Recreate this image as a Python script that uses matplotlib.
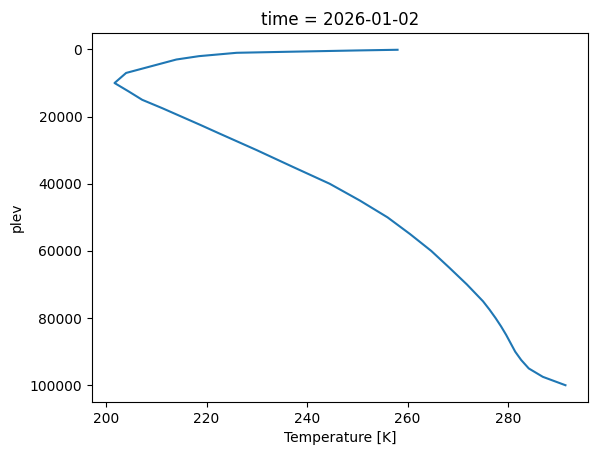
import numpy as np
import matplotlib
matplotlib.use("Agg")
from matplotlib import pyplot as plt

# pressure levels [Pa] and temperature [K]
plev = [100, 200, 300, 500, 700, 1000, 2000, 3000, 5000, 7000,
        10000, 12500, 15000, 17500, 20000, 22500, 25000, 30000, 35000,
        40000, 45000, 50000, 55000, 60000, 65000, 70000, 75000, 77500,
        80000, 82500, 85000, 87500, 90000, 92500, 95000, 97500, 100000]
temp = [258.0, 254.0, 250.0, 243.0, 236.0, 226.0, 218.5, 214.0, 209.0, 204.0,
        201.7, 204.5, 207.2, 211.2, 215.0, 218.8, 222.5, 230.0, 237.2,
        244.5, 250.5, 256.0, 260.5, 264.7, 268.3, 271.8, 275.0, 276.3,
        277.5, 278.6, 279.6, 280.5, 281.4, 282.6, 284.1, 286.9, 291.4]

fig = plt.figure(figsize=(5.97, 4.55), dpi=100)
ax = fig.add_axes([92 / 597, 53 / 455, 496 / 597, 369 / 455])

ax.plot(temp, plev)
ax.invert_yaxis()
ax.set_xlabel("Temperature [K]")
ax.set_ylabel("plev")
ax.set_title("time = 2026-01-02")

fig.savefig("out.png", dpi=100)
